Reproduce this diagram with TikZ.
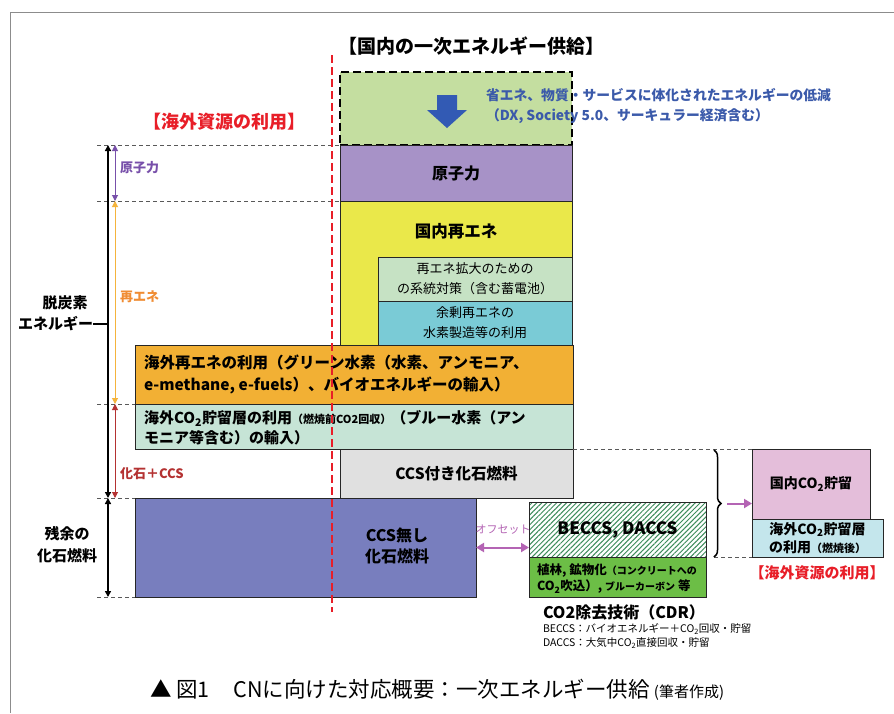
\documentclass[tikz,border=0pt]{standalone}
\usepackage{fontspec}
\setmainfont{Noto Sans CJK JP}
\usetikzlibrary{arrows.meta,patterns.meta,decorations.pathreplacing}
\newcommand\myfs[1]{\fontsize{#1}{#1}\selectfont}
\newcommand\myfsl[2]{\fontsize{#1}{#2}\selectfont}
\newcommand\sub[1]{\textsubscript{#1}}
\definecolor{cGreenDash}{RGB}{196,222,160}
\definecolor{cPurple}{RGB}{167,146,199}
\definecolor{cYellow}{RGB}{234,232,74}
\definecolor{cLtGreen}{RGB}{198,226,196}
\definecolor{cTeal}{RGB}{122,203,214}
\definecolor{cOrange}{RGB}{242,176,52}
\definecolor{cMint}{RGB}{198,228,214}
\definecolor{cGray}{RGB}{224,224,224}
\definecolor{cIndigo}{RGB}{120,126,190}
\definecolor{cHatch}{RGB}{60,140,90}
\definecolor{cGrass}{RGB}{108,190,70}
\definecolor{cPink}{RGB}{228,190,218}
\definecolor{cLtBlue}{RGB}{196,230,236}
\definecolor{cRed}{RGB}{232,30,40}
\definecolor{cPurpTxt}{RGB}{120,80,170}
\definecolor{cOrTxt}{RGB}{240,140,50}
\definecolor{cOrArr}{RGB}{245,180,60}
\definecolor{cDkRed}{RGB}{180,50,50}
\definecolor{cOffset}{RGB}{180,100,180}
\definecolor{cBlueTxt}{RGB}{59,90,170}
\definecolor{cBlueArr}{RGB}{50,90,180}
\tikzset{
  mytip/.tip={Triangle[length=6pt,width=6pt]},
  mystip/.tip={Triangle[length=6pt,width=6pt]},
  myotip/.tip={Triangle[length=8pt,width=9pt]}}
\begin{document}
\begin{tikzpicture}[x=1pt,y=-1pt,
  box/.style={draw=black!85, line width=1pt, inner sep=0pt, outer sep=0pt, anchor=north west},
  txt/.style={inner sep=0pt, outer sep=0pt},
  guide/.style={draw=black!65, line width=0.8pt, dash pattern=on 4pt off 3pt}]
\useasboundingbox (0,0) rectangle (894,713);
\fill[white] (0,0) rectangle (894,713);
\draw[black!45, line width=0.8pt] (10,713) -- (10,12) -- (894,12);

% title
\node[txt, font=\bfseries\myfs{19}] (title) at (471,46) {【国内の一次エネルギー供給】};

% boxes
\node[box, fill=cGreenDash, draw=black, line width=2.2pt, dash pattern=on 8pt off 4pt, minimum width=232pt, minimum height=73pt] (save) at (340,72) {};
\node[box, fill=cPurple, minimum width=232pt, minimum height=56pt] (nuc) at (340,145) {};
\node[box, fill=cYellow, minimum width=232pt, minimum height=144pt] (ren) at (340,201) {};
\node[box, fill=cLtGreen, minimum width=194pt, minimum height=44pt] (grid) at (378,257) {};
\node[box, fill=cTeal, minimum width=194pt, minimum height=44pt] (htwo) at (378,301) {};
\node[box, fill=cOrange, minimum width=438pt, minimum height=59pt] (imp) at (135,345) {};
\node[box, fill=cMint, minimum width=438pt, minimum height=45pt] (blue) at (135,404) {};
\node[box, fill=cGray, minimum width=233pt, minimum height=49pt] (ccs) at (340,449) {};
\node[box, fill=cIndigo, minimum width=341pt, minimum height=99pt] (noccs) at (135,498) {};
\node[box, pattern={Lines[angle=45,distance=3.5pt,line width=1pt]}, pattern color=cHatch, minimum width=177pt, minimum height=55pt] (beccs) at (529,502) {};
\node[box, fill=cGrass, minimum width=177pt, minimum height=40pt] (forest) at (529,557) {};
\node[box, fill=cPink, minimum width=118pt, minimum height=70pt] (dom) at (752,449) {};
\node[box, fill=cLtBlue, minimum width=131pt, minimum height=38pt] (ovs) at (752,519) {};

% arrow in dashed box
\fill[cBlueArr] (437,95) -- (457,95) -- (457,110) -- (467,110) -- (447,128) -- (427,110) -- (437,110) -- cycle;
\node[txt, anchor=west, text=cBlueTxt, font=\bfseries\myfsl{13.8}{20}, align=left] (savetxt) at (486,106)
  {省エネ、物質・サービスに体化されたエネルギーの低減\\（DX, Society 5.0、サーキュラー経済含む）};

% texts in boxes
\node[txt, font=\bfseries\myfs{16}] at (nuc.center) {原子力};
\node[txt, font=\bfseries\myfs{16.5}] at (456,231) {国内再エネ};
\node[txt, font=\myfsl{13}{20}, align=center] at (grid.center) {再エネ拡大のための\\の系統対策（含む蓄電池）};
\node[txt, font=\myfsl{13}{20}, align=center] at (htwo.center) {余剰再エネの\\水素製造等の利用};
\node[txt, anchor=west, font=\bfseries\myfsl{15.5}{22}, align=left] at (144,374)
  {海外再エネの利用（グリーン水素（水素、アンモニア、\\e-methane, e-fuels）、バイオエネルギーの輸入）};
\node[txt, anchor=west, font=\bfseries\myfsl{15}{20}, align=left] at (144,428)
  {海外CO\sub{2}貯留層の利用{\myfs{11}（燃焼前CO2回収）}（ブルー水素（アン\\モニア等含む）の輸入）};
\node[txt, font=\bfseries\myfs{15.5}] at (ccs.center) {CCS付き化石燃料};
\node[txt, font=\bfseries\myfsl{16}{21}, align=center] at (397,546) {CCS無し\\化石燃料};
\node[txt, font=\bfseries\myfs{17}] at (beccs.center) {BECCS, DACCS};
\node[txt, anchor=west, font=\bfseries\myfsl{12.5}{16}, align=left] at (537,579)
  {植林, 鉱物化{\myfs{10}（コンクリートへの}\\CO\sub{2}吹込）, {\myfs{10}ブルーカーボン} 等};
\node[txt, font=\bfseries\myfs{14}] at (dom.center) {国内CO\sub{2}貯留};
\node[txt, font=\bfseries\myfsl{14}{18}, align=center] at (ovs.center) {海外CO\sub{2}貯留層\\の利用{\myfs{11}（燃焼後）}};

% red labels
\node[txt, text=cRed, font=\bfseries\myfs{18}] at (224,122) {【海外資源の利用】};
\node[txt, text=cRed, font=\bfseries\myfs{15}] at (817,573) {【海外資源の利用】};

% offset
\node[txt, text=cOffset, font=\myfs{11}] (offl) at (503,530) {オフセット};
\draw[cOffset, line width=2pt, {myotip}-{myotip}] (noccs.east) -- (noccs.east -| beccs.west);

% brace
\coordinate (brT) at (714,450);
\coordinate (brB) at (714,557);
\coordinate (brTip) at (727,503.5);
\draw[guide] (ccs.north east) -- (dom.north west);
\draw[guide] (brB) -- (ovs.south west);
\draw[line width=1.5pt, decorate, decoration={brace, amplitude=7pt}] (brT) -- (brB);
\draw[cOffset, line width=2pt, -{myotip}] (brTip) -- (brTip -| dom.west);

% CDR
\node[txt, anchor=west, font=\bfseries\myfs{16}] (cdr) at (543,612) {CO2除去技術（CDR）};
\node[txt, anchor=west, font=\myfs{10.5}] at (543,629) {BECCS：バイオエネルギー＋CO\sub{2}回収・貯留};
\node[txt, anchor=west, font=\myfs{10.5}] at (543,643) {DACCS：大気中CO\sub{2}直接回収・貯留};

% left axis
\coordinate (aT) at (108,145);
\coordinate (aM) at (108,498);
\coordinate (aB) at (108,597);
\coordinate (cA) at (115,145);
\coordinate (cB) at (115,201);
\coordinate (cC) at (115,404);
\coordinate (cD) at (115,498);
\draw[guide] (97,145) -- (nuc.north west);
\draw[guide] (97,201) -- (ren.north west);
\draw[guide] (97,404) -- (blue.north west);
\draw[guide] (97,498) -- (noccs.north west);
\draw[guide] (97,597) -- (noccs.south west);
\draw[line width=1.5pt, {mytip}-{mytip}] (aT) -- (aM);
\draw[line width=1.5pt, {mytip}-{mytip}] (aM) -- (aB);
\draw[cPurpTxt, line width=1pt, {mystip}-{mystip}] (cA) -- (cB);
\draw[cOrArr, line width=1pt, {mystip}-{mystip}] (cB) -- (cC);
\draw[cDkRed, line width=1pt, {mystip}-{mystip}] (cC) -- (cD);
\node[txt, anchor=west, text=cPurpTxt, font=\bfseries\myfs{13}] at (120,168) {原子力};
\node[txt, anchor=west, text=cOrTxt, font=\bfseries\myfs{13}] at (120,297) {再エネ};
\node[txt, anchor=west, text=cDkRed, font=\bfseries\myfs{13}] at (120,474) {化石＋CCS};
\node[txt, font=\bfseries\myfs{15}] (dcA) at (65,303) {脱炭素};
\node[txt, anchor=east, font=\bfseries\myfs{15}] (dcB) at (93,324) {エネルギー};
\draw[line width=1.5pt] (dcB.east) -- (dcB.east -| aT);
\node[txt, font=\bfseries\myfsl{15}{22}, align=center] (rem) at (67,545) {残余の\\化石燃料};

% red dashed line
\draw[cRed, line width=2.5pt, dash pattern=on 8pt off 4pt] (332,55) -- (332,612);

% caption
\node[txt, anchor=west, font=\myfs{21.5}] (cap) at (150,690) {▲ 図1\hspace{1.1em}CNに向けた対応概要：一次エネルギー供給\hspace{0.2em}{\myfs{15}(筆者作成)}};
\end{tikzpicture}
\end{document}
